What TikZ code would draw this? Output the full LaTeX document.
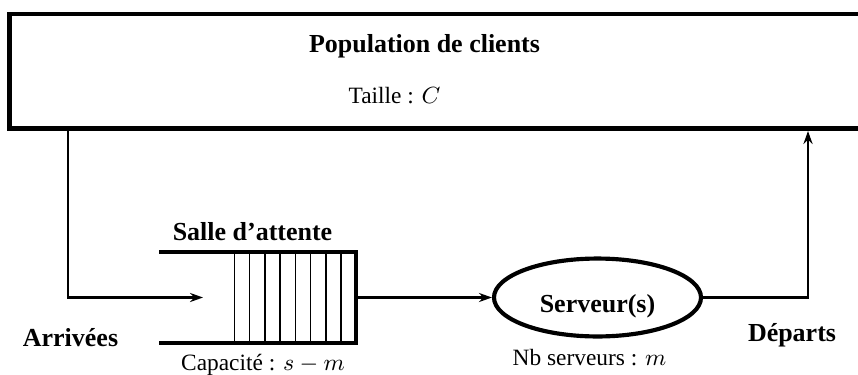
\documentclass[tikz,border=0pt]{standalone}
\usepackage{fontspec}
\setmainfont{Liberation Serif}
\usetikzlibrary{arrows.meta,positioning,shapes.geometric,calc}

\begin{document}
\begin{tikzpicture}[
    x=0.385pt, y=-0.385pt,
    popbox/.style={draw, line width=1.9pt, minimum width=335.3pt, minimum height=44.1pt, inner sep=0pt},
    waitroom/.style={minimum width=75.8pt, minimum height=35pt, inner sep=0pt, outer sep=0pt},
    queueline/.style={line width=1.6pt},
    cell/.style={line width=0.5pt},
    server/.style={draw, ellipse, line width=1.6pt, minimum width=79.7pt, minimum height=30pt, inner sep=0pt, font=\bfseries, text height=11.3pt, text depth=0pt},
    title/.style={font=\bfseries, anchor=base, inner sep=0pt},
    note/.style={font=\small, anchor=base, inner sep=0pt},
    arrow/.style={-{Stealth[length=5pt, width=3.5pt]}, line width=1.1pt}
]
    \useasboundingbox (0,0) rectangle (858,374);

    \node[popbox] (population) at (444.5,71.25) {};
    \node[title] (poptitle) at (424.5,52) {Population de clients};
    \node[note] (taille) at (394.5,103) {Taille : $C$};

    \node[waitroom] (salle) at (257.5,297.5) {};
    \draw[queueline] (salle.north west) -- (salle.north east) -- (salle.south east) -- (salle.south west);
    \foreach \k in {0,...,7}
        \draw[cell] ($(salle.north west)+(75.3+15.25*\k,0)$) -- ($(salle.south west)+(75.3+15.25*\k,0)$);
    \node[title] (sallelabel) at (252.5,240) {Salle d'attente};
    \node[note] (capacite) at (263,370.5) {Capacité : $s-m$};

    \node[server] (serveur) at (597.5,297.5) {Serveur(s)};
    \node[note] (nbserveurs) at (589.5,365) {Nb serveurs : $m$};

    \node[title] (arrivees) at (70.5,346) {Arrivées};
    \node[title] (departs) at (792,341.7) {Départs};

    \coordinate (gauche) at (68,0);
    \coordinate (droite) at (808,0);
    \coordinate (entree) at (203,297.5);

    \draw[arrow] (population.south -| gauche) |- (entree);
    \draw[arrow] (salle.east) -- (serveur.west);
    \draw[arrow] (serveur.east) -| (population.south -| droite);
\end{tikzpicture}
\end{document}
